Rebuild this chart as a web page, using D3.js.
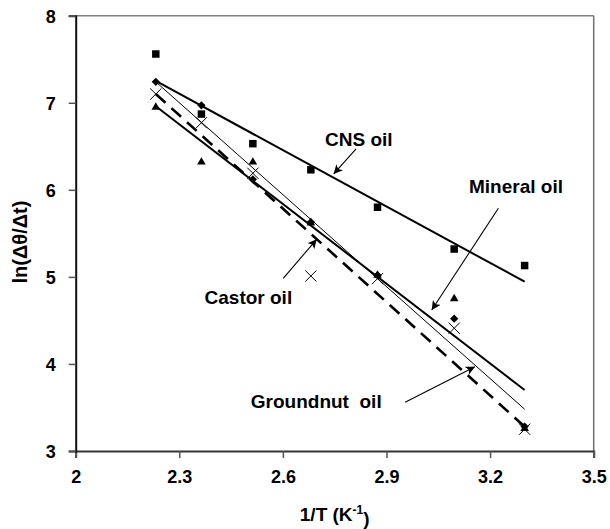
<!DOCTYPE html>
<html>
<head>
<meta charset="utf-8">
<script src="https://cdn.jsdelivr.net/npm/d3@7"></script>
<style>
  html, body { margin: 0; padding: 0; background: #fff; }
  svg { display: block; }
  text { font-family: "Liberation Sans", Arial, Helvetica, sans-serif; font-weight: bold; fill: #000; }
</style>
</head>
<body>
<svg id="chart" width="610" height="529"></svg>
<script>
// Reciprocal temperature (1000/T, K^-1) at which each oil was measured
const invT = [2.232, 2.364, 2.513, 2.681, 2.874, 3.096, 3.300];

// ln(dθ/dt) for each oil
const cnsOil       = [7.56, 6.87, 6.53, 6.23, 5.80, 5.32, 5.13];
const castorOil    = [7.10, 6.77, 6.19, 5.01, 4.98, 4.41, 3.25];
const mineralOil   = [6.96, 6.33, 6.33, 5.63, 5.03, 4.76, 3.27];
const groundnutOil = [7.24, 6.97, 6.12, 5.63, 5.02, 4.52, 3.28];

// Fitted straight lines: value at the first and last temperature
const fitX         = [2.232, 3.300];
const cnsFit       = [7.25, 4.945];
const castorFit    = [7.10, 3.28];
const mineralFit   = [6.96, 3.70];
const groundnutFit = [7.24, 3.48];

// Axis ticks
const xTicks = [2, 2.3, 2.6, 2.9, 3.2, 3.5];
const xTickLabels = ["2", "2.3", "2.6", "2.9", "3.2", "3.5"];
const yTicks = [3, 4, 5, 6, 7, 8];
const yTickLabels = ["3", "4", "5", "6", "7", "8"];

const svg = d3.select("#chart");
svg.append("rect").attr("width", 610).attr("height", 529).attr("fill", "#fff");

const plotL = 75.7, plotR = 593.7, plotT = 15.7, plotB = 451;
const x = d3.scaleLinear().domain([2, 3.5]).range([plotL, plotR]);
const y = d3.scaleLinear().domain([3, 8]).range([plotB, plotT]);

// Frame
svg.append("line").attr("x1", plotL).attr("x2", plotR).attr("y1", plotT).attr("y2", plotT)
  .attr("stroke", "#808080").attr("stroke-width", 1.5);
svg.append("line").attr("x1", plotR).attr("x2", plotR).attr("y1", plotT).attr("y2", plotB)
  .attr("stroke", "#707070").attr("stroke-width", 1.5);

// Axes
const xAxis = d3.axisBottom(x).tickValues(xTicks).tickSize(7).tickPadding(12)
  .tickFormat((d, i) => xTickLabels[i]);
const yAxis = d3.axisLeft(y).tickValues(yTicks).tickSize(7).tickPadding(13)
  .tickFormat((d, i) => yTickLabels[i]);

const gx = svg.append("g").attr("transform", `translate(0,${plotB})`).call(xAxis);
const gy = svg.append("g").attr("transform", `translate(${plotL},0)`).call(yAxis);
[gx, gy].forEach(g => {
  g.select(".domain").attr("stroke", "#333").attr("stroke-width", 2);
  g.selectAll(".tick line").attr("stroke", "#555").attr("stroke-width", 1.5);
  g.selectAll(".tick text")
    .style("font-family", '"Liberation Sans", Arial, sans-serif')
    .style("font-weight", "bold").style("font-size", "18px").attr("fill", "#000");
});
gy.select(".domain").attr("stroke", "#111");
gy.selectAll(".tick text").attr("dy", "0.36em");

// Axis titles
const xt = svg.append("text").attr("x", x(2.75)).attr("y", 521)
  .attr("text-anchor", "middle").style("font-size", "19px");
xt.append("tspan").text("1/T (K");
xt.append("tspan").text("-1").attr("dy", "-0.55em").style("font-size", "12px");
xt.append("tspan").text(")").attr("dy", "0.55em");

svg.append("text")
  .attr("transform", `translate(27,${y(5.4)}) rotate(-90)`)
  .attr("text-anchor", "middle").style("font-size", "20px")
  .text("ln(Δθ/Δt)");

// Fitted lines
const line = d3.line().x(d => x(d[0])).y(d => y(d[1]));
const fits = [
  { v: cnsFit, w: 2, dash: null },
  { v: groundnutFit, w: 1, dash: null },
  { v: mineralFit, w: 2, dash: null },
  { v: castorFit, w: 2.6, dash: "13,8" }
];
fits.forEach(f => {
  svg.append("path").datum(fitX.map((t, i) => [t, f.v[i]]))
    .attr("d", line).attr("fill", "none").attr("stroke", "#000")
    .attr("stroke-width", f.w).attr("stroke-dasharray", f.dash);
});

// Markers
const pts = vals => invT.map((t, i) => [t, vals[i]]);
svg.append("g").selectAll("path").data(pts(cnsOil)).join("path")
  .attr("transform", d => `translate(${x(d[0])},${y(d[1])})`)
  .attr("d", d3.symbol(d3.symbolSquare, 56)).attr("fill", "#000");
svg.append("g").selectAll("path").data(pts(castorOil)).join("path")
  .attr("transform", d => `translate(${x(d[0])},${y(d[1])})`)
  .attr("d", d3.symbol(d3.symbolTimes || d3.symbolX, 84)).attr("fill", "none")
  .attr("stroke", "#000").attr("stroke-width", 1);
svg.append("g").selectAll("path").data(pts(mineralOil)).join("path")
  .attr("transform", d => `translate(${x(d[0])},${y(d[1]) + 1})`)
  .attr("d", d3.symbol(d3.symbolTriangle, 32)).attr("fill", "#000");
svg.append("g").selectAll("path").data(pts(groundnutOil)).join("path")
  .attr("transform", d => `translate(${x(d[0])},${y(d[1])}) rotate(45)`)
  .attr("d", d3.symbol(d3.symbolSquare, 34)).attr("fill", "#000");

// Labels with arrows
svg.append("defs").append("marker")
  .attr("id", "head").attr("viewBox", "0 0 10 10").attr("refX", 10).attr("refY", 5)
  .attr("markerWidth", 9).attr("markerHeight", 9).attr("markerUnits", "userSpaceOnUse")
  .attr("orient", "auto")
  .append("path").attr("d", "M0,0 L10,5 L0,10 L2.5,5 Z").attr("fill", "#000");

const notes = [
  { text: "CNS oil", tx: 2.820, ty: 6.50, anchor: "middle", from: [2.812, 6.47], to: [2.747, 6.182] },
  { text: "Mineral oil", tx: 3.275, ty: 5.963, anchor: "middle", from: [3.224, 5.788], to: [3.031, 4.620] },
  { text: "Castor oil", tx: 2.500, ty: 4.689, anchor: "middle", from: [2.601, 4.984], to: [2.698, 5.432] },
  { text: "Groundnut  oil", tx: 2.886, ty: 3.494, anchor: "end", from: [2.954, 3.560], to: [3.156, 3.968] }
];
notes.forEach(n => {
  svg.append("text").attr("x", x(n.tx)).attr("y", y(n.ty))
    .attr("text-anchor", n.anchor).style("font-size", "19px")
    .style("white-space", "pre").attr("xml:space", "preserve").text(n.text);
  svg.append("line")
    .attr("x1", x(n.from[0])).attr("y1", y(n.from[1]))
    .attr("x2", x(n.to[0])).attr("y2", y(n.to[1]))
    .attr("stroke", "#000").attr("stroke-width", 1.1).attr("marker-end", "url(#head)");
});
</script>
</body>
</html>
